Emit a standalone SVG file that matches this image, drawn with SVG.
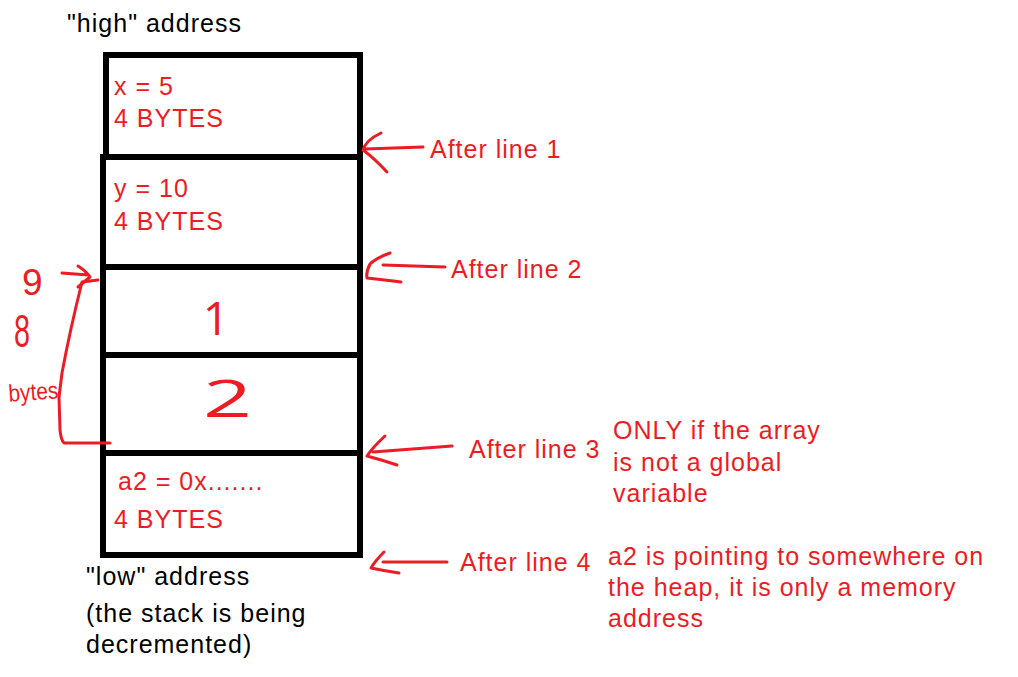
<svg xmlns="http://www.w3.org/2000/svg" width="1018" height="677" viewBox="0 0 1018 677">
<style>
.cell{fill:none;stroke:#000;stroke-width:6}
.t{font-family:"Liberation Sans",Arial,sans-serif;font-size:25px;letter-spacing:1px}
.red{fill:#ed1c24}
.blk{fill:#000}
.hand{fill:none;stroke:#ed1c24;stroke-width:3;stroke-linecap:round;stroke-linejoin:round}
.hw{font-family:"Open Sans","Noto Sans",sans-serif;fill:#ed1c24}
.hs{font-family:"Liberation Sans",Arial,sans-serif;fill:#ed1c24}
</style>
<rect width="1018" height="677" fill="#fff"/>
<text class="t blk" x="67" y="32">"high" address</text>
<g id="cell-x">
<rect class="cell" x="106" y="55" width="254" height="102"/>
<text class="t red" x="114" y="95">x = 5</text>
<text class="t red" x="114" y="127">4 BYTES</text>
</g>
<g id="cell-y">
<rect class="cell" x="103" y="157" width="257" height="110"/>
<text class="t red" x="114" y="197">y = 10</text>
<text class="t red" x="114" y="230">4 BYTES</text>
</g>
<g id="cell-a1">
<rect class="cell" x="103" y="267" width="257" height="88"/>
<text class="hw" x="216" y="335" font-size="46" text-anchor="middle">1</text>
</g>
<g id="cell-a2">
<rect class="cell" x="103" y="355" width="257" height="98"/>
<text class="hw" x="0" y="0" font-size="52" transform="translate(203,417) scale(1.65,1)">2</text>
</g>
<g id="cell-ptr">
<rect class="cell" x="103" y="453" width="257" height="102"/>
<text class="t red" x="118" y="490">a2 = 0x.......</text>
<text class="t red" x="114" y="528">4 BYTES</text>
</g>
<text class="t blk" x="86" y="585">"low" address</text>
<text class="t blk" x="86" y="622">(the stack is being</text>
<text class="t blk" x="86" y="653">decremented)</text>
<g id="size-note">
<text class="hs" x="22" y="295" font-size="37">9</text>
<text class="hs" x="0" y="0" font-size="36" transform="translate(14,347) scale(0.8,1.3)">8</text>
<text class="hs" x="8" y="400" font-size="24" textLength="50" lengthAdjust="spacingAndGlyphs" transform="rotate(-4 33 388)">bytes</text>
</g>
<g id="connectors">
<path class="hand" d="M62,273 L88,275 M78,266 Q86,271 90,277 Q84,282 78,287"/>
<path class="hand" d="M98,280 L82,282 Q70,330 62,373 L59,397 L60,430 Q61,440 64,443 L110,443"/>
<path class="hand" d="M423,147 L365,149 M381,133 Q366,140 363,150 Q374,158 387,172"/>
<path class="hand" d="M445,267 L383,265 M390,253 Q376,258 370,264 Q366,272 367,278 Q385,280 401,282"/>
<path class="hand" d="M452,446 L373,452 M385,436 Q373,447 367,456 Q382,460 397,465"/>
<path class="hand" d="M447,562 L383,562 M384,552 Q375,561 371,568 Q385,571 399,573"/>
</g>
<g id="labels">
<text class="t red" x="430" y="158">After line 1</text>
<text class="t red" x="451" y="278">After line 2</text>
<text class="t red" x="469" y="458">After line 3</text>
<text class="t red" x="460" y="571">After line 4</text>
<text class="t red" x="613" y="439">ONLY if the array</text>
<text class="t red" x="613" y="471">is not a global</text>
<text class="t red" x="613" y="502">variable</text>
<text class="t red" x="608" y="565">a2 is pointing to somewhere on</text>
<text class="t red" x="608" y="596">the heap, it is only a memory</text>
<text class="t red" x="608" y="627">address</text>
</g>
</svg>
